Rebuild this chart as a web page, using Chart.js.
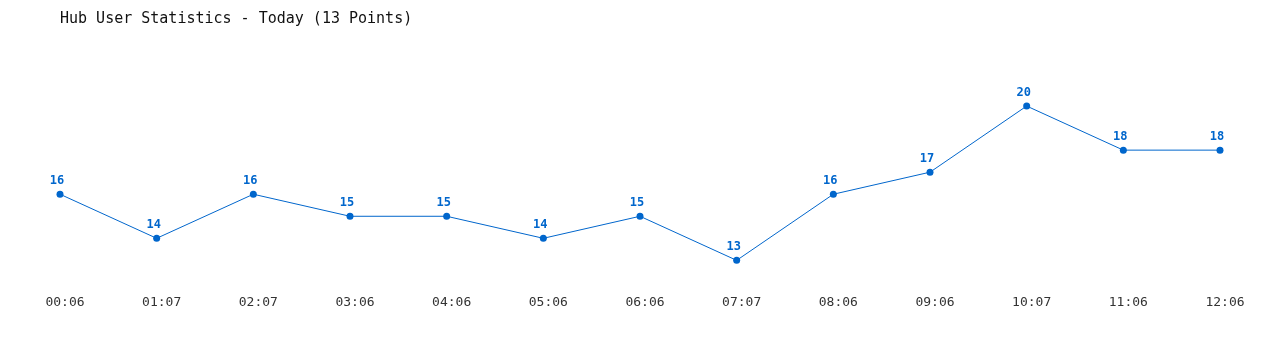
<!DOCTYPE html>
<html>
<head>
<meta charset="utf-8">
<script src="https://cdn.jsdelivr.net/npm/chart.js@4"></script>
<style>
html,body{margin:0;padding:0;background:#fff}
#wrap{width:1280px;height:350px}
</style>
</head>
<body>
<div id="wrap"><canvas id="grafico"></canvas></div>
<script>
// dados
const horarios=["00:06","01:07","02:07","03:06","04:06","05:06","06:06","07:07","08:06","09:06","10:07","11:06","12:06"]
const usuarios=[16,14,16,15,15,14,15,13,16,17,20,18,18]

const corLinha="#0066cc"
const fonte="'DejaVu Sans Mono', 'Liberation Mono', monospace"

// desenha o valor em cima de cada ponto
const rotulos={
id:"rotulos",
afterDatasetsDraw(chart){
const ctx=chart.ctx
const meta=chart.getDatasetMeta(0)
ctx.save()
ctx.font="bold 12px "+fonte
ctx.fillStyle=corLinha
ctx.textAlign="center"
ctx.textBaseline="middle"
meta.data.forEach((p,i)=>{
ctx.fillText(usuarios[i],p.x-3,p.y-13)
})
ctx.restore()
}
}

new Chart(document.getElementById("grafico"),{
type:"line",
data:{
labels:horarios,
datasets:[{
data:usuarios,
borderColor:corLinha,
backgroundColor:corLinha,
borderWidth:1,
pointRadius:3.5,
pointBorderWidth:0,
tension:0,
fill:false
}]
},
options:{
responsive:true,
maintainAspectRatio:false,
animation:false,
layout:{padding:{left:60,right:60,top:0,bottom:28}},
plugins:{
legend:{display:false},
tooltip:{enabled:false},
title:{
display:true,
text:"Hub User Statistics - Today (13 Points)",
align:"start",
color:"#111",
font:{family:fonte,size:15,weight:"normal"},
padding:{top:10,bottom:56}
}
},
scales:{
x:{
grid:{display:false,drawTicks:false},
border:{display:false},
ticks:{color:"#333",font:{family:fonte,size:13},padding:12,labelOffset:5,maxRotation:0,autoSkip:false}
},
y:{
display:false,
min:12,
max:21
}
}
},
plugins:[rotulos]
})
</script>
</body>
</html>
